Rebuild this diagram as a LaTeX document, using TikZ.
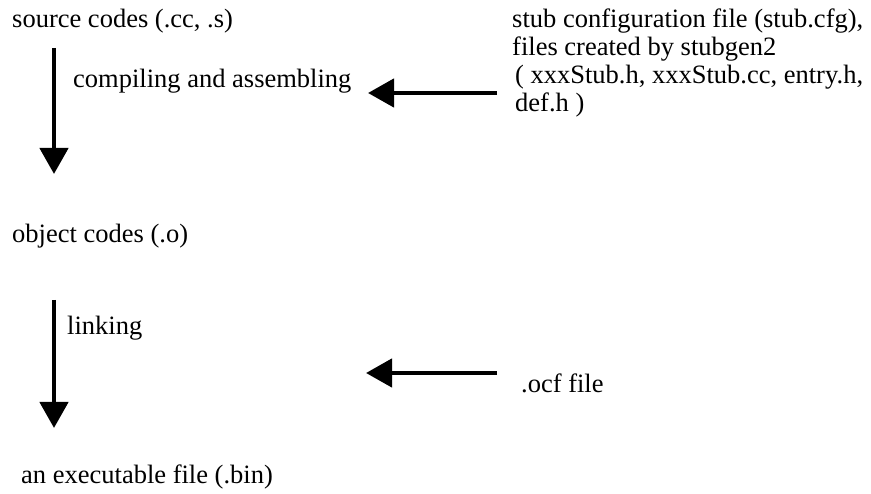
\documentclass[tikz,border=0pt]{standalone}
\usepackage{fontspec}
\setmainfont{Liberation Serif}
\usetikzlibrary{arrows.meta}
\tikzset{
  lbl/.style={anchor=base west, inner sep=0pt, font=\fontsize{26.5}{28}\selectfont},
  flow/.style={line width=4.5pt, -{Triangle[length=26pt,width=28pt]}},
}
\begin{document}
\begin{tikzpicture}[x=1pt,y=-1pt]
\useasboundingbox (0,0) rectangle (871,494);
\node[lbl] (src) at (12,28) {source codes (.cc, .s)};
\node[lbl] (comp) at (73,88) {compiling and assembling};
\node[lbl, align=left] (stub) at (512,112) {stub configuration file (stub.cfg),\\files created by stubgen2\\\hspace*{3pt}( xxxStub.h, xxxStub.cc, entry.h,\\\hspace*{3pt}def.h )};
\node[lbl] (obj) at (12,243) {object codes (.o)};
\node[lbl] (link) at (67,335) {linking};
\node[lbl] (ocf) at (521,393) {.ocf file};
\node[lbl] (exe) at (21,483) {an executable file (.bin)};
\coordinate (a1s) at (54,48);
\coordinate (a1e) at (54,174);
\coordinate (b1s) at (497,93);
\coordinate (b1e) at (368,93);
\coordinate (a2s) at (54,300);
\coordinate (a2e) at (54,428);
\coordinate (b2s) at (497,373);
\coordinate (b2e) at (366,373);
\draw[flow] (a1s) -- (a1e);
\draw[flow] (b1s) -- (b1e);
\draw[flow] (a2s) -- (a2e);
\draw[flow] (b2s) -- (b2e);
\end{tikzpicture}
\end{document}
